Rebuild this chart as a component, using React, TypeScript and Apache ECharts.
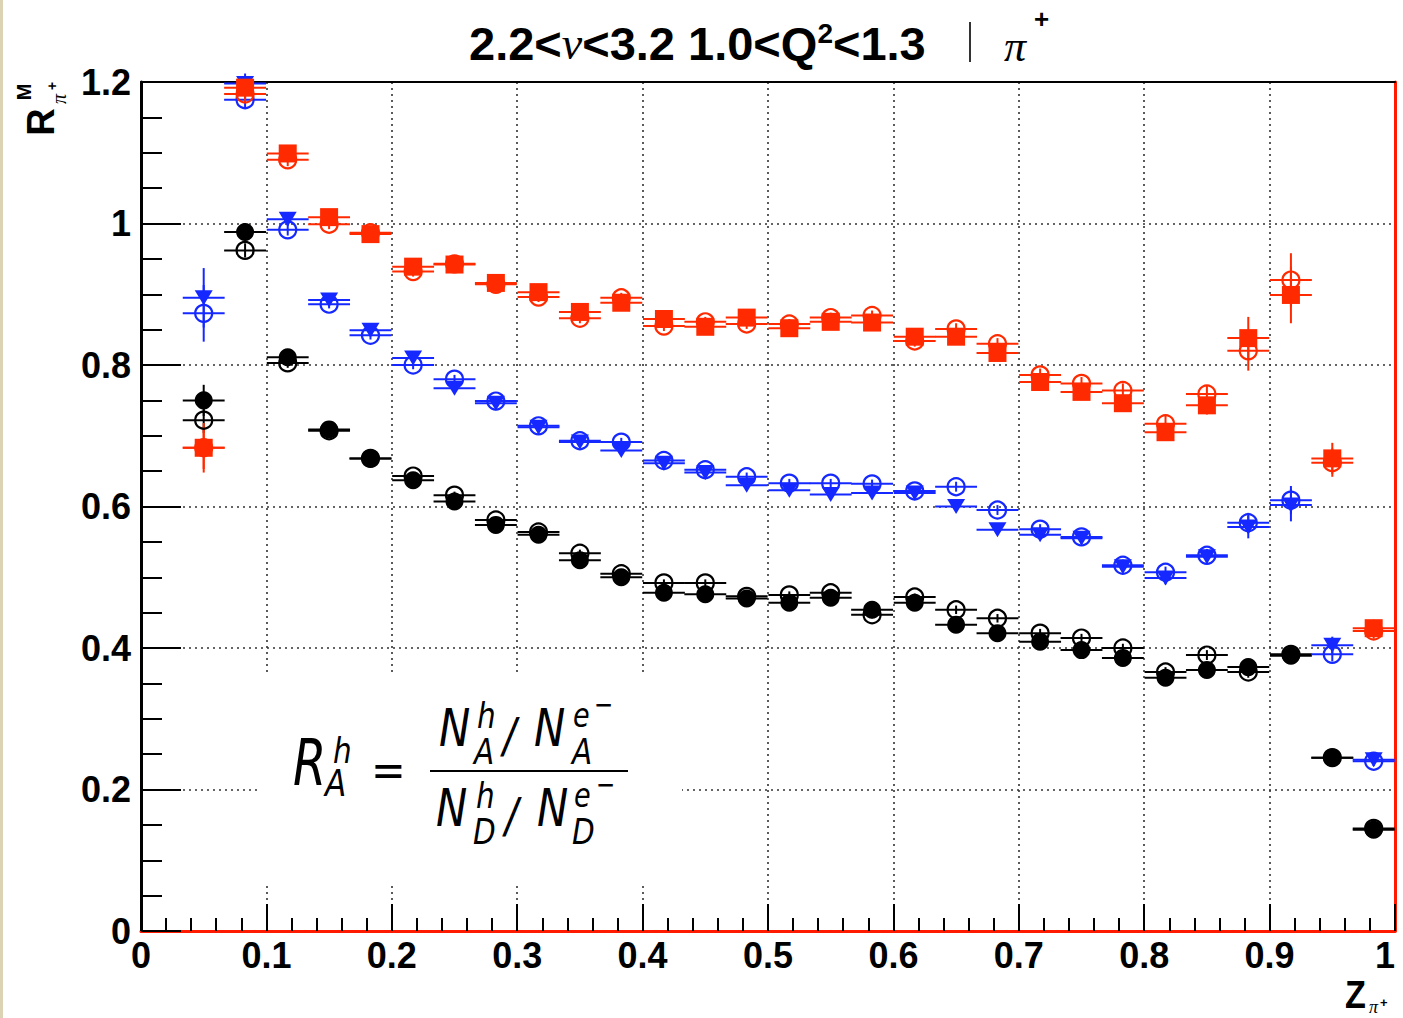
import React, { useEffect, useRef } from 'react';
import * as echarts from 'echarts';

// z bin centres (bins of width 1/30)
const zCenters = [0.050, 0.083, 0.117, 0.150, 0.183, 0.217, 0.250, 0.283, 0.317, 0.350, 0.383, 0.417, 0.450, 0.483, 0.517, 0.550, 0.583, 0.617, 0.650, 0.683, 0.717, 0.750, 0.783, 0.817, 0.850, 0.883, 0.917, 0.950, 0.983];
const binHalfWidth = 0.0167;

const blackFilled = [0.750, 0.988, 0.811, 0.709, 0.668, 0.637, 0.607, 0.574, 0.560, 0.524, 0.500, 0.478, 0.476, 0.470, 0.464, 0.471, 0.454, 0.464, 0.433, 0.421, 0.409, 0.397, 0.386, 0.358, 0.369, 0.373, 0.389, 0.245, 0.143];
const blackFilledErr = [0.022, 0.012, 0.008, 0.006, 0.006, 0.005, 0.005, 0.005, 0.005, 0.005, 0.005, 0.005, 0.005, 0.005, 0.005, 0.005, 0.005, 0.006, 0.006, 0.006, 0.006, 0.006, 0.007, 0.007, 0.008, 0.009, 0.010, 0.008, 0.006];
const blackOpen = [0.722, 0.962, 0.803, 0.707, 0.668, 0.643, 0.616, 0.581, 0.564, 0.534, 0.505, 0.492, 0.492, 0.473, 0.475, 0.478, 0.447, 0.472, 0.454, 0.442, 0.421, 0.414, 0.400, 0.366, 0.390, 0.366, 0.391, 0.245, 0.145];
const blackOpenErr = [0.018, 0.010, 0.007, 0.005, 0.005, 0.005, 0.005, 0.005, 0.005, 0.005, 0.005, 0.005, 0.005, 0.005, 0.005, 0.005, 0.005, 0.005, 0.006, 0.006, 0.006, 0.006, 0.006, 0.007, 0.007, 0.008, 0.009, 0.007, 0.005];

const blueFilled = [0.895, 1.198, 1.006, 0.892, 0.849, 0.810, 0.767, 0.746, 0.712, 0.691, 0.679, 0.661, 0.648, 0.630, 0.623, 0.617, 0.619, 0.619, 0.600, 0.567, 0.560, 0.555, 0.515, 0.499, 0.529, 0.571, 0.602, 0.404, 0.242];
const blueFilledErr = [0.042, 0.014, 0.009, 0.007, 0.006, 0.006, 0.006, 0.006, 0.006, 0.006, 0.006, 0.006, 0.006, 0.006, 0.006, 0.006, 0.006, 0.007, 0.007, 0.007, 0.007, 0.008, 0.008, 0.009, 0.010, 0.016, 0.023, 0.012, 0.008];
const blueOpen = [0.873, 1.175, 0.991, 0.886, 0.842, 0.800, 0.780, 0.749, 0.714, 0.693, 0.691, 0.665, 0.652, 0.642, 0.633, 0.633, 0.632, 0.622, 0.628, 0.595, 0.568, 0.557, 0.517, 0.507, 0.531, 0.577, 0.609, 0.391, 0.240];
const blueOpenErr = [0.040, 0.012, 0.008, 0.006, 0.006, 0.006, 0.006, 0.006, 0.006, 0.006, 0.006, 0.006, 0.006, 0.006, 0.006, 0.006, 0.006, 0.007, 0.007, 0.007, 0.007, 0.007, 0.008, 0.008, 0.009, 0.014, 0.020, 0.010, 0.007];

const redFilled = [0.683, 1.192, 1.099, 1.009, 0.985, 0.939, 0.942, 0.916, 0.903, 0.875, 0.888, 0.865, 0.854, 0.867, 0.852, 0.861, 0.860, 0.840, 0.840, 0.817, 0.776, 0.762, 0.746, 0.705, 0.743, 0.838, 0.899, 0.668, 0.428];
const redFilledErr = [0.035, 0.014, 0.010, 0.008, 0.007, 0.007, 0.007, 0.007, 0.007, 0.007, 0.007, 0.007, 0.007, 0.007, 0.007, 0.007, 0.007, 0.008, 0.008, 0.009, 0.009, 0.010, 0.010, 0.011, 0.013, 0.030, 0.040, 0.022, 0.012];
const redOpen = [0.683, 1.183, 1.090, 0.999, 0.987, 0.932, 0.943, 0.914, 0.896, 0.866, 0.895, 0.855, 0.861, 0.858, 0.858, 0.867, 0.870, 0.834, 0.851, 0.830, 0.786, 0.774, 0.764, 0.717, 0.759, 0.820, 0.920, 0.662, 0.424];
const redOpenErr = [0.030, 0.012, 0.009, 0.007, 0.007, 0.007, 0.007, 0.007, 0.007, 0.007, 0.007, 0.007, 0.007, 0.007, 0.007, 0.007, 0.007, 0.008, 0.008, 0.008, 0.009, 0.009, 0.010, 0.011, 0.012, 0.028, 0.038, 0.020, 0.011];

const BLACK = '#000000';
const BLUE = '#1428ff';
const RED = '#ff2a00';
const LABEL_FONT = '"Liberation Sans", Arial, Helvetica, sans-serif';
const MATH_FONT = '"DejaVu Sans", sans-serif';
const GREEK_FONT = '"Liberation Serif", "Times New Roman", serif';

function errSeries(vals: number[], errs: number[], color: string) {
  return {
    type: 'custom',
    silent: true,
    clip: false,
    z: 2,
    data: zCenters.map((x, i) => [x, vals[i], errs[i]]),
    renderItem: (_params: any, api: any) => {
      const x = api.value(0);
      const y = api.value(1);
      const e = api.value(2);
      const l = api.coord([x - binHalfWidth, y]);
      const r = api.coord([x + binHalfWidth, y]);
      const t = api.coord([x, y + e]);
      const b = api.coord([x, y - e]);
      return {
        type: 'group',
        children: [
          { type: 'line', shape: { x1: l[0], y1: l[1], x2: r[0], y2: r[1] }, style: { stroke: color, lineWidth: 2 } },
          { type: 'line', shape: { x1: t[0], y1: t[1], x2: b[0], y2: b[1] }, style: { stroke: color, lineWidth: 2 } },
        ],
      };
    },
  };
}

function markerSeries(vals: number[], color: string, kind: 'circle' | 'open' | 'rect' | 'tri') {
  const base: any = {
    type: 'scatter',
    silent: true,
    z: kind === 'open' ? 3 : 4,
    data: zCenters.map((x, i) => [x, vals[i]]),
  };
  if (kind === 'open') {
    return { ...base, symbol: 'circle', symbolSize: 17, itemStyle: { color: 'rgba(255,255,255,0)', borderColor: color, borderWidth: 2.2, opacity: 1 } };
  }
  if (kind === 'rect') {
    return { ...base, symbol: 'rect', symbolSize: 18, itemStyle: { color, opacity: 1 } };
  }
  if (kind === 'tri') {
    return { ...base, symbol: 'triangle', symbolRotate: 180, symbolSize: [18, 15], itemStyle: { color, opacity: 1 } };
  }
  return { ...base, symbol: 'circle', symbolSize: 18, itemStyle: { color, opacity: 1 } };
}

function mt(text: string, x: number, y: number, size: number, opts: any = {}) {
  return {
    type: 'text',
    x,
    y,
    z: 11,
    scaleX: opts.scaleX ?? 0.82,
    rotation: opts.rotation ?? 0,
    style: {
      text,
      fontSize: size,
      fontFamily: opts.family ?? MATH_FONT,
      fontStyle: opts.style ?? 'italic',
      fontWeight: opts.weight ?? 'normal',
      fill: '#000',
      align: opts.align ?? 'left',
      verticalAlign: 'middle',
    },
  };
}

export default function App() {
  const ref = useRef<HTMLDivElement>(null);
  useEffect(() => {
    const chart = echarts.init(ref.current!, null, { renderer: 'svg' });
    const gridLine = { show: true, lineStyle: { color: '#333', width: 1.6, type: [2, 4] as any } };
    const option: any = {
      animation: false,
      backgroundColor: '#ffffff',
      grid: { left: 141, top: 82, width: 1254, height: 849, containLabel: false, outerBoundsMode: 'none' },
      xAxis: [
        {
          type: 'value', min: 0, max: 1, interval: 0.1,
          axisLine: { show: true, onZero: false, lineStyle: { color: '#ff1a00', width: 3 } },
          axisTick: { show: true, inside: true, length: 27, lineStyle: { color: '#000', width: 2 } },
          minorTick: { show: true, splitNumber: 5, length: 13, lineStyle: { color: '#000', width: 2 } },
          splitLine: gridLine,
          axisLabel: { show: true, margin: 6, fontSize: 36, fontWeight: 'bold', color: '#000', fontFamily: LABEL_FONT, hideOverlap: false, alignMaxLabel: 'right' },
        },
        {
          type: 'value', min: 0, max: 1, position: 'top',
          axisLine: { show: true, onZero: false, lineStyle: { color: '#000', width: 2 } },
          axisTick: { show: false }, axisLabel: { show: false }, splitLine: { show: false },
        },
      ],
      yAxis: [
        {
          type: 'value', min: 0, max: 1.2, interval: 0.2,
          axisLine: { show: true, onZero: false, lineStyle: { color: '#000', width: 3 } },
          axisTick: { show: true, inside: true, length: 40, lineStyle: { color: '#000', width: 2 } },
          minorTick: { show: true, splitNumber: 4, length: 21, lineStyle: { color: '#000', width: 2 } },
          splitLine: gridLine,
          axisLabel: { show: true, margin: 10, fontSize: 36, fontWeight: 'bold', color: '#000', fontFamily: LABEL_FONT },
        },
        {
          type: 'value', min: 0, max: 1.2, position: 'right',
          axisLine: { show: true, onZero: false, lineStyle: { color: '#ff1a00', width: 3 } },
          axisTick: { show: false }, axisLabel: { show: false }, splitLine: { show: false },
        },
      ],
      series: [
        errSeries(blackOpen, blackOpenErr, BLACK),
        errSeries(blackFilled, blackFilledErr, BLACK),
        errSeries(blueOpen, blueOpenErr, BLUE),
        errSeries(blueFilled, blueFilledErr, BLUE),
        errSeries(redOpen, redOpenErr, RED),
        errSeries(redFilled, redFilledErr, RED),
        markerSeries(blackOpen, BLACK, 'open'),
        markerSeries(blueOpen, BLUE, 'open'),
        markerSeries(redOpen, RED, 'open'),
        markerSeries(blackFilled, BLACK, 'circle'),
        markerSeries(blueFilled, BLUE, 'tri'),
        markerSeries(redFilled, RED, 'rect'),
      ],
      graphic: [
        { type: 'rect', z: 0, shape: { x: 0, y: 0, width: 3, height: 1018 }, style: { fill: '#dcd2b4' } },
        // title
        {
          type: 'text', x: 469, y: 43, z: 11,
          style: {
            text: '{a|2.2<}{g|ν}{a|<3.2 1.0<Q}{s|2}{a|<1.3}',
            fill: '#000', align: 'left', verticalAlign: 'middle',
            rich: {
              a: { fontSize: 47, fontWeight: 'bold', fontFamily: LABEL_FONT, fill: '#000' },
              g: { fontSize: 46, fontWeight: 'normal', fontStyle: 'italic', fontFamily: GREEK_FONT, fill: '#000' },
              s: { fontSize: 28, fontWeight: 'bold', fontFamily: LABEL_FONT, fill: '#000', verticalAlign: 'top' },
            },
          },
        },
        { type: 'line', z: 11, shape: { x1: 970, y1: 22, x2: 970, y2: 62 }, style: { stroke: '#333', lineWidth: 2 } },
        mt('π', 1004, 46, 44, { family: GREEK_FONT, style: 'italic', scaleX: 1 }),
        mt('+', 1034, 19, 26, { family: LABEL_FONT, style: 'normal', weight: 'bold', scaleX: 1 }),
        // y axis name (rotated)
        mt('R', 41, 122, 38, { family: LABEL_FONT, style: 'normal', weight: 'bold', scaleX: 1, rotation: Math.PI / 2, align: 'center' }),
        mt('M', 24, 92, 20, { family: LABEL_FONT, style: 'normal', weight: 'bold', scaleX: 1, rotation: Math.PI / 2, align: 'center' }),
        mt('π', 59, 99, 20, { family: GREEK_FONT, style: 'italic', scaleX: 1, rotation: Math.PI / 2, align: 'center' }),
        mt('+', 52, 86, 14, { family: LABEL_FONT, style: 'normal', weight: 'bold', scaleX: 1, rotation: Math.PI / 2, align: 'center' }),
        // x axis name
        mt('Z', 1345, 995, 38, { family: LABEL_FONT, style: 'normal', weight: 'bold', scaleX: 0.9 }),
        mt('π', 1369, 1007, 18, { family: GREEK_FONT, style: 'italic', scaleX: 1 }),
        mt('+', 1380, 1002, 13, { family: LABEL_FONT, style: 'normal', weight: 'bold', scaleX: 1 }),
        // formula box
        { type: 'rect', z: 10, shape: { x: 258, y: 672, width: 424, height: 212 }, style: { fill: '#ffffff' } },
        mt('R', 293, 762, 64, { scaleX: 0.75 }),
        mt('h', 333, 750, 36),
        mt('A', 325, 783, 38),
        mt('=', 371, 770, 46, { style: 'normal', scaleX: 0.9 }),
        { type: 'line', z: 11, shape: { x1: 430, y1: 771, x2: 628, y2: 771 }, style: { stroke: '#000', lineWidth: 2 } },
        mt('N', 439, 729, 51),
        mt('h', 477, 715, 36),
        mt('A', 474, 751, 36),
        mt('/', 503, 735, 48),
        mt('N', 534, 729, 51),
        mt('e', 573, 716, 33),
        mt('−', 594, 704, 28, { style: 'normal' }),
        mt('A', 572, 751, 36),
        mt('N', 436, 809, 51),
        mt('h', 476, 795, 36),
        mt('D', 473, 831, 36),
        mt('/', 505, 815, 48),
        mt('N', 537, 809, 51),
        mt('e', 574, 796, 33),
        mt('−', 596, 784, 28, { style: 'normal' }),
        mt('D', 572, 831, 36),
      ],
    };
    chart.setOption(option);
    return () => chart.dispose();
  }, []);
  return <div ref={ref} style={{ position: 'fixed', left: 0, top: 0, width: 1403, height: 1018, background: '#fff' }} />;
}
